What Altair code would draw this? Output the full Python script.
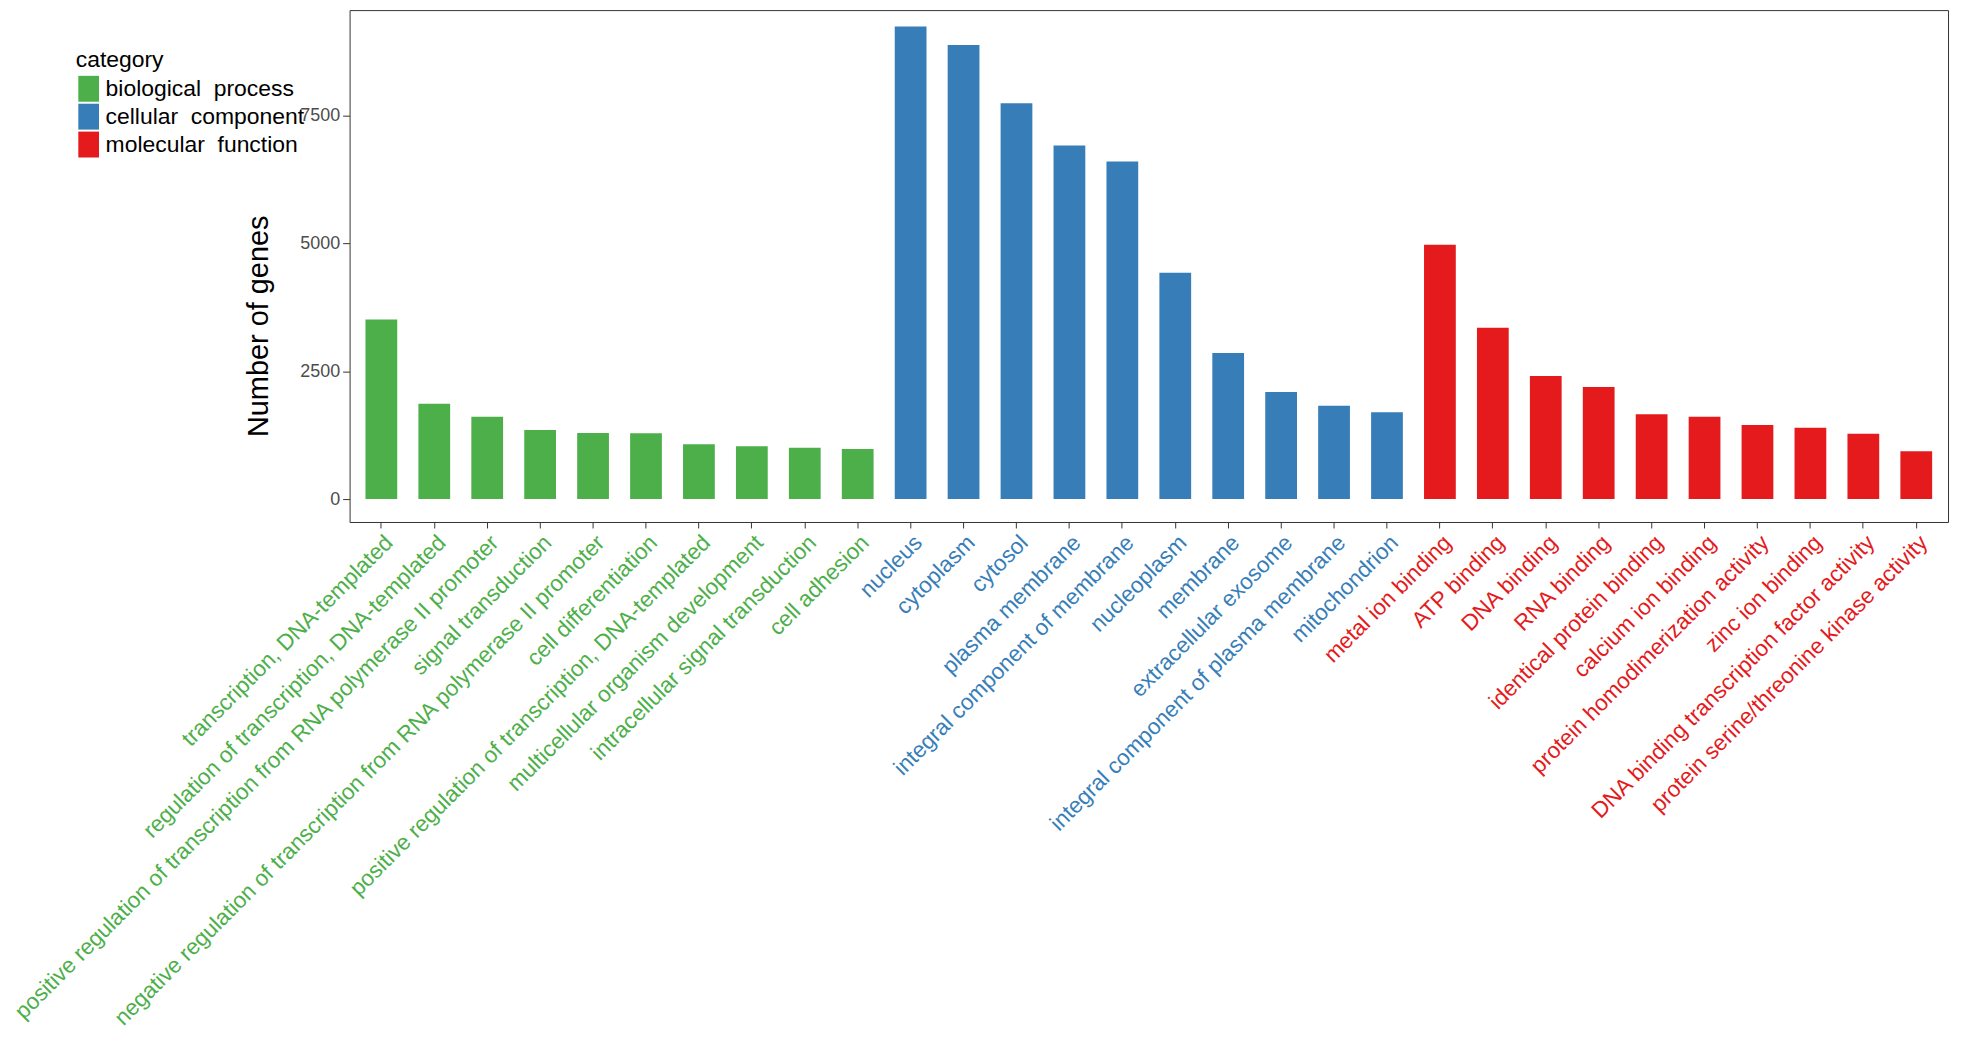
import json
import altair as alt
import pandas as pd

categories = ["biological process", "cellular component", "molecular function"]
colors = ["#4DAF4A", "#377EB8", "#E41A1C"]

bp_terms = [
    "transcription, DNA-templated",
    "regulation of transcription, DNA-templated",
    "positive regulation of transcription from RNA polymerase II promoter",
    "signal transduction",
    "negative regulation of transcription from RNA polymerase II promoter",
    "cell differentiation",
    "positive regulation of transcription, DNA-templated",
    "multicellular organism development",
    "intracellular signal transduction",
    "cell adhesion",
]
bp_values = [3513, 1864, 1610, 1351, 1292, 1286, 1071, 1032, 1006, 981]

cc_terms = [
    "nucleus",
    "cytoplasm",
    "cytosol",
    "plasma membrane",
    "integral component of membrane",
    "nucleoplasm",
    "membrane",
    "extracellular exosome",
    "integral component of plasma membrane",
    "mitochondrion",
]
cc_values = [9247, 8883, 7747, 6916, 6604, 4429, 2857, 2097, 1825, 1701]

mf_terms = [
    "metal ion binding",
    "ATP binding",
    "DNA binding",
    "RNA binding",
    "identical protein binding",
    "calcium ion binding",
    "protein homodimerization activity",
    "zinc ion binding",
    "DNA binding transcription factor activity",
    "protein serine/threonine kinase activity",
]
mf_values = [4974, 3351, 2409, 2195, 1662, 1610, 1448, 1396, 1279, 935]

y_ticks = [0, 2500, 5000, 7500]

rows = []
for cat, terms, vals in [(categories[0], bp_terms, bp_values),
                         (categories[1], cc_terms, cc_values),
                         (categories[2], mf_terms, mf_values)]:
    for t, v in zip(terms, vals):
        rows.append({"term": t, "count": v, "category": cat})
df = pd.DataFrame(rows)
all_terms = bp_terms + cc_terms + mf_terms

bp_test = "indexof(" + json.dumps(bp_terms) + ", datum.value) >= 0"
cc_test = "indexof(" + json.dumps(cc_terms) + ", datum.value) >= 0"
label_color = {
    "condition": [
        {"test": bp_test, "value": colors[0]},
        {"test": cc_test, "value": colors[1]},
    ],
    "value": colors[2],
}

FONT = "Liberation Sans"

chart = alt.Chart(df).mark_bar().encode(
    x=alt.X(
        "term:N",
        sort=all_terms,
        scale=alt.Scale(paddingInner=0.4, paddingOuter=0.3),
        axis=alt.Axis(
            title=None,
            labelAngle=-45,
            labelAlign="right",
            labelBaseline="top",
            labelFontSize=22.5,
            labelFont=FONT,
            labelColor=label_color,
            labelLimit=0,
            labelPadding=3,
            tickSize=6,
            tickColor="#333333",
            domain=False,
        ),
    ),
    y=alt.Y(
        "count:Q",
        scale=alt.Scale(domain=[-448, 9567], nice=False, zero=False),
        axis=alt.Axis(
            values=y_ticks,
            format="d",
            grid=False,
            domain=False,
            title="Number of genes",
            titleFont=FONT,
            titleFontSize=29,
            titleFontWeight="normal",
            titleColor="#000000",
            titleX=-82,
            titleY=317,
            titleAlign="center",
            titleBaseline="alphabetic",
            labelFont=FONT,
            labelFontSize=18,
            labelColor="#4d4d4d",
            labelPadding=3,
            tickSize=7,
            tickColor="#333333",
        ),
    ),
    color=alt.Color(
        "category:N",
        scale=alt.Scale(domain=categories, range=colors),
        legend=alt.Legend(
            title="category",
            orient="none",
            legendX=-275,
            legendY=39,
            padding=0,
            titleFont=FONT,
            titleFontSize=23,
            titleFontWeight="normal",
            titleColor="#000000",
            titlePadding=4,
            labelFont=FONT,
            labelFontSize=23,
            labelColor="#000000",
            labelLimit=0,
            labelOffset=4,
            labelExpr="replace(datum.label, ' ', '\u00a0 ')",
            symbolType="M-0.8,-1H0.8V1H-0.8Z",
            symbolSize=676,
            symbolOpacity=1,
            symbolStrokeWidth=0,
            rowPadding=2,
        ),
    ),
).properties(
    width=1605,
    height=514,
    autosize=alt.AutoSizeParams(type="none"),
    padding={"left": 343, "top": 0, "right": 5, "bottom": 513},
).configure_view(
    stroke="#333333",
    strokeWidth=1,
)

chart.save("out.html", embed_options={"renderer": "svg", "actions": False})
